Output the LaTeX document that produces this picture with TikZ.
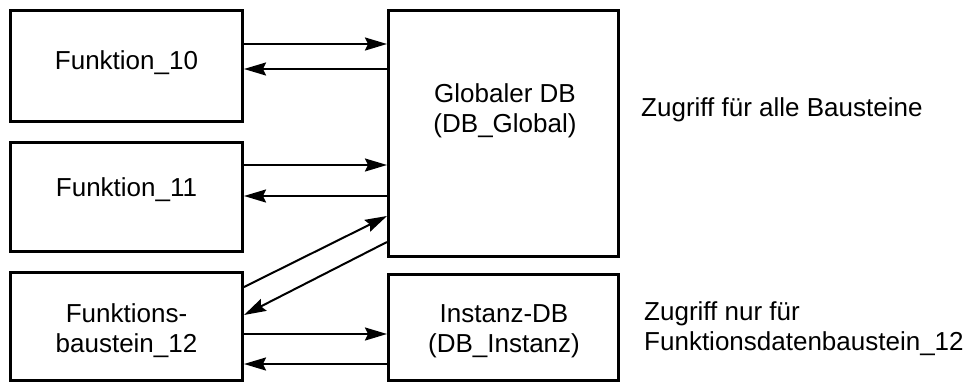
\documentclass[tikz,border=0pt]{standalone}
\usepackage{fontspec}
\setmainfont{Liberation Sans}
\usetikzlibrary{arrows.meta}
\begin{document}
\begin{tikzpicture}[x=1pt,y=-1pt,
  box/.style={draw, line width=3pt, inner sep=0pt},
  lbl/.style={inner sep=0pt, font=\fontsize{26}{30}\selectfont, align=center, anchor=north},
  sidelbl/.style={inner sep=0pt, font=\fontsize{26}{30}\selectfont, align=left},
  arr/.style={line width=2pt, -{Stealth[length=22pt,width=13pt,inset=3pt]}}]
\fill[white] (0,0) rectangle (968,381);
\useasboundingbox (0,0) rectangle (968,381);
% boxes
\node[box, minimum width=232pt, minimum height=111pt] (f10) at (126.5,66) {};
\node[box, minimum width=232pt, minimum height=109pt] (f11) at (126.5,197) {};
\node[box, minimum width=232pt, minimum height=108pt] (f12) at (126.5,326.5) {};
\node[box, minimum width=230pt, minimum height=246pt] (glob) at (503.5,133.5) {};
\node[box, minimum width=230pt, minimum height=106pt] (inst) at (503.5,327.5) {};
% texts
\node[lbl] (t10) at (126.5,50.3) {Funktion\_10};
\node[lbl] (t11) at (126.5,177.1) {Funktion\_11};
\node[lbl] (t12) at (126.5,303.6) {Funktions-\\baustein\_12};
\node[lbl] (tg) at (505,83) {Globaler DB\\(DB\_Global)};
\node[lbl] (ti) at (504,304) {Instanz-DB\\(DB\_Instanz)};
\node[sidelbl, anchor=base west] (za) at (641,116) {Zugriff für alle Bausteine};
\node[sidelbl, anchor=north west] (zn) at (644,301) {Zugriff nur für\\Funktionsdatenbaustein\_12};
% arrows
\draw[arr] (f10.east |- 0,44) -- (glob.west |- 0,44);
\draw[arr] (glob.west |- 0,69) -- (f10.east |- 0,69);
\draw[arr] (f11.east |- 0,165) -- (glob.west |- 0,165);
\draw[arr] (glob.west |- 0,196) -- (f11.east |- 0,196);
\draw[arr] (f12.east |- 0,287) -- (glob.west |- 0,216);
\draw[arr] (glob.west |- 0,242) -- (f12.east |- 0,315);
\draw[arr] (f12.east |- 0,334) -- (inst.west |- 0,334);
\draw[arr] (inst.west |- 0,364) -- (f12.east |- 0,364);
\end{tikzpicture}
\end{document}
